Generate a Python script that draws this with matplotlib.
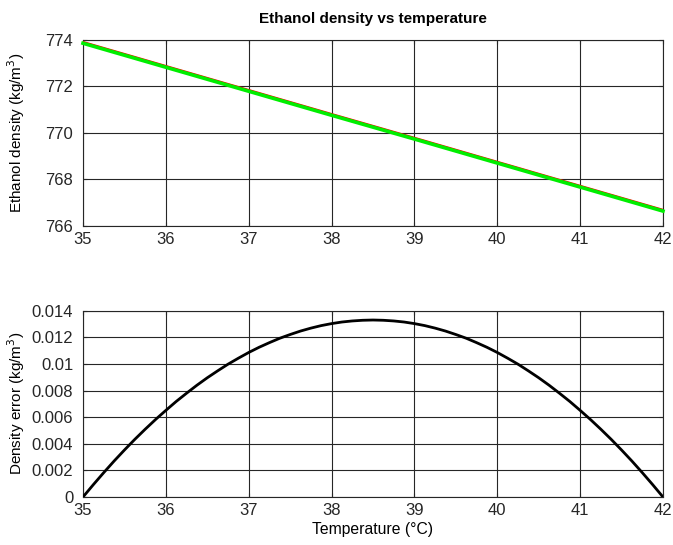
import numpy as np
import matplotlib
matplotlib.use("Agg")
import matplotlib.pyplot as plt

plt.rcParams['font.family'] = ['Liberation Sans', 'DejaVu Sans']

# --- data ---
temp_fit = [35, 36, 37, 38, 39, 40, 41, 42]
density_fit = [773.90, 772.87, 771.84, 770.81, 769.79, 768.76, 767.73, 766.70]
temp_meas = [35, 36, 37, 38, 39, 40, 41, 42]
density_meas = [773.84, 772.81, 771.78, 770.75, 769.73, 768.70, 767.67, 766.64]

temp_err = [35.0, 35.125, 35.25, 35.375, 35.5, 35.625, 35.75, 35.875,
            36.0, 36.125, 36.25, 36.375, 36.5, 36.625, 36.75, 36.875,
            37.0, 37.125, 37.25, 37.375, 37.5, 37.625, 37.75, 37.875,
            38.0, 38.125, 38.25, 38.375, 38.5, 38.625, 38.75, 38.875,
            39.0, 39.125, 39.25, 39.375, 39.5, 39.625, 39.75, 39.875,
            40.0, 40.125, 40.25, 40.375, 40.5, 40.625, 40.75, 40.875,
            41.0, 41.125, 41.25, 41.375, 41.5, 41.625, 41.75, 41.875, 42.0]
density_err = [0.0, 0.00093, 0.00183, 0.00270, 0.00353, 0.00433, 0.00509, 0.00582,
               0.00651, 0.00718, 0.00780, 0.00840, 0.00896, 0.00948, 0.00998, 0.01043,
               0.01086, 0.01125, 0.01160, 0.01193, 0.01221, 0.01247, 0.01269, 0.01288,
               0.01303, 0.01315, 0.01323, 0.01328, 0.01330, 0.01328, 0.01323, 0.01315,
               0.01303, 0.01288, 0.01269, 0.01247, 0.01221, 0.01193, 0.01160, 0.01125,
               0.01086, 0.01043, 0.00998, 0.00948, 0.00896, 0.00840, 0.00780, 0.00718,
               0.00651, 0.00582, 0.00509, 0.00433, 0.00353, 0.00270, 0.00183, 0.00093, 0.0]

x_ticks = [35, 36, 37, 38, 39, 40, 41, 42]
y1_ticks = [766, 768, 770, 772, 774]
y2_ticks = [0, 0.002, 0.004, 0.006, 0.008, 0.01, 0.012, 0.014]
y2_labels = ['0', '0.002', '0.004', '0.006', '0.008', '0.01', '0.012', '0.014']

fig = plt.figure(figsize=(6.73, 5.45), dpi=100)
W, H = 673, 545
ax1 = fig.add_axes([83 / W, 1 - 226 / H, (663 - 83) / W, (226 - 39.5) / H])
ax2 = fig.add_axes([83 / W, 1 - 497 / H, (663 - 83) / W, (497 - 310.7) / H])

# top: density vs temperature
ax1.plot(temp_fit, density_fit, color='red', linewidth=1.3, zorder=3)
ax1.plot(temp_meas, density_meas, color='#00ee00', linewidth=2.6, zorder=4,
         clip_on=False)
ax1.set_xlim(35, 42)
ax1.set_ylim(766, 774)
ax1.set_xticks(x_ticks)
ax1.set_yticks(y1_ticks)
ax1.set_title('Ethanol density vs temperature', fontsize=11, fontweight='bold', pad=12)
ax1.set_ylabel('Ethanol density (kg/m$^3$)', fontsize=11)

# bottom: error
ax2.plot(temp_err, density_err, color='black', linewidth=2, zorder=3)
ax2.set_xlim(35, 42)
ax2.set_ylim(0, 0.014)
ax2.set_xticks(x_ticks)
ax2.set_yticks(y2_ticks)
ax2.set_yticklabels(y2_labels)
ax2.set_xlabel('Temperature (°C)', fontsize=11.3, labelpad=3)
ax2.set_ylabel('Density error (kg/m$^3$)', fontsize=11)

for ax in (ax1, ax2):
    ax.grid(True, color='#262626', linewidth=0.8)
    ax.set_axisbelow(True)
    ax.tick_params(direction='in', length=3, labelsize=12,
                   top=True, right=True, colors='#262626', labelcolor='#262626')
    ax.tick_params(axis='x', pad=4)
    ax.tick_params(axis='y', pad=7)
    ax.yaxis.set_label_coords(-0.097, 0.5)
    for s in ax.spines.values():
        s.set_color('#262626')
        s.set_linewidth(0.8)

fig.savefig('out.png', dpi=100)
